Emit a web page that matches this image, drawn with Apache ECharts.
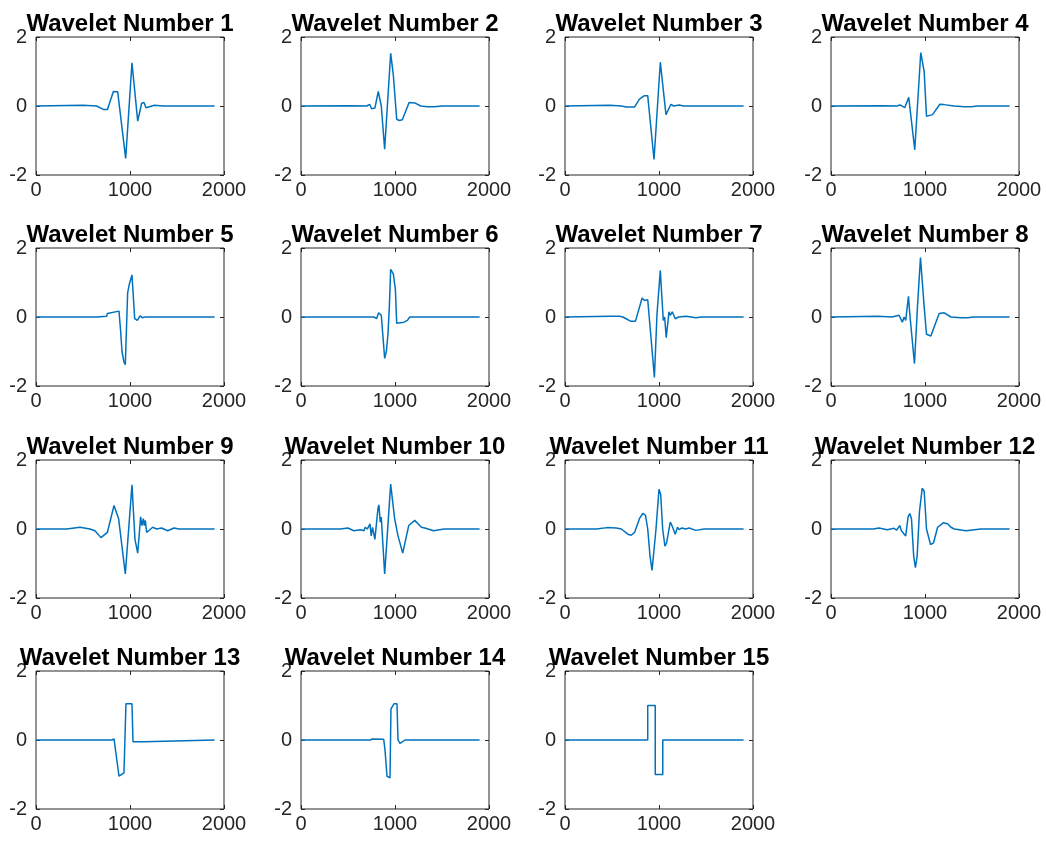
<!DOCTYPE html>
<html>
<head>
<meta charset="utf-8">
<script src="https://cdn.jsdelivr.net/npm/echarts@6/dist/echarts.min.js"></script>
<style>
  html, body { margin: 0; padding: 0; background: #fff; }
  #chart { width: 1046px; height: 844px; }
</style>
</head>
<body>
<div id="chart"></div>
<script>
// Tick values shared by every panel
const xTicks = [0, 1000, 2000];
const yTicks = [-2, 0, 2];

// Wavelet shapes as [sample, amplitude] breakpoints
const wave01 = [[0,0],[500,0.02],[645,0],[716,-0.1],[760,-0.1],[823,0.42],[869,0.41],[880,0.36],[954,-1.52],[1021,1.25],[1082,-0.44],[1124,0.08],[1149,0.1],[1170,-0.05],[1188,0],[1260,0.02],[1350,0],[1900,0]];
const wave02 = [[0,0],[509,0.01],[700,0],[730,0.05],[751,-0.08],[786,-0.06],[822,0.42],[854,0],[890,-1.25],[954,1.53],[982,0.9],[1018,-0.38],[1043,-0.42],[1078,-0.4],[1150,0.1],[1210,0.09],[1274,0],[1345,-0.02],[1416,-0.02],[1500,0],[1900,0]];
const wave03 = [[0,0],[475,0.02],[600,0],[651,-0.03],[739,-0.03],[757,-0.02],[792,0.2],[845,0.3],[880,0.3],[947,-1.55],[1014,1.27],[1074,-0.25],[1127,0.05],[1155,0],[1215,0.03],[1260,0],[1900,0]];
const wave04 = [[0,0],[528,0.01],[700,0],[734,0.03],[784,-0.05],[827,0.25],[891,-1.27],[955,1.55],[991,1.0],[1016,-0.3],[1080,-0.25],[1158,0.05],[1200,0.04],[1312,0],[1420,-0.02],[1490,-0.02],[1560,0],[1900,0]];
const wave05 = [[0,0],[645,0],[752,0.02],[759,0.1],[883,0.17],[900,-0.4],[915,-1.0],[935,-1.3],[950,-1.38],[975,0.7],[993,0.95],[1021,1.22],[1050,-0.05],[1078,-0.1],[1106,0.03],[1130,-0.02],[1160,0],[1900,0]];
const wave06 = [[0,0],[776,0],[804,-0.05],[826,0.12],[854,0.05],[890,-1.2],[908,-1.0],[925,-0.5],[940,0.3],[954,1.38],[982,1.25],[1004,0.8],[1018,-0.18],[1096,-0.15],[1132,-0.1],[1157,0],[1900,0]];
const wave07 = [[0,0],[475,0.02],[580,0.02],[616,0],[650,-0.05],[697,-0.12],[750,-0.12],[820,0.55],[845,0.48],[880,0.5],[915,-0.6],[951,-1.75],[979,0.1],[990,0.05],[1014,1.35],[1032,0.5],[1046,-0.1],[1060,0],[1077,-0.6],[1106,0.15],[1120,0.05],[1141,0.15],[1173,-0.05],[1208,0],[1290,0.02],[1391,-0.02],[1450,0],[1900,0]];
const wave08 = [[0,0],[500,0.02],[650,0],[724,0.05],[759,-0.15],[777,0],[795,-0.1],[824,0.6],[841,0],[858,0.05],[888,-1.35],[920,0.3],[952,1.72],[991,0.3],[1016,-0.5],[1062,-0.55],[1080,-0.6],[1151,0.1],[1205,0.12],[1276,0],[1380,-0.02],[1450,-0.02],[1520,0],[1900,0]];
const wave09 = [[0,0],[326,0],[468,0.05],[574,0],[627,-0.05],[691,-0.25],[759,-0.1],[830,0.68],[879,0.3],[950,-1.3],[1021,1.28],[1053,-0.3],[1064,-0.35],[1082,-0.7],[1113,0.35],[1127,0.1],[1142,0.3],[1152,0.1],[1163,0.25],[1177,-0.1],[1195,-0.05],[1241,0.05],[1283,0],[1336,0.03],[1401,-0.05],[1468,0.03],[1520,0],[1900,0]];
const wave10 = [[0,0],[420,0],[498,0.03],[562,-0.05],[633,-0.02],[669,-0.05],[683,0.05],[705,0],[722,0.08],[733,0.15],[747,-0.2],[761,0.05],[786,-0.3],[800,-0.35],[819,0.6],[829,0.7],[843,0.2],[854,0.35],[890,-1.3],[954,1.3],[996,0.3],[1032,-0.2],[1082,-0.7],[1146,0.1],[1210,0.25],[1281,0.05],[1327,0.02],[1409,-0.05],[1523,0],[1900,0]];
const wave11 = [[0,0],[335,0],[447,0.04],[546,0.03],[599,0],[669,-0.15],[704,-0.18],[740,-0.1],[792,0.3],[827,0.45],[856,0.4],[880,0],[905,-0.8],[926,-1.2],[944,-1.2],[968,0],[1000,1.15],[1018,1.0],[1039,0],[1063,-0.5],[1081,-0.4],[1120,0.2],[1138,0.1],[1151,0.15],[1173,-0.15],[1197,0.05],[1215,-0.02],[1243,0.03],[1285,0],[1320,0.03],[1391,-0.04],[1480,0],[1900,0]];
const wave12 = [[0,0],[450,0],[510,0.03],[598,-0.02],[670,0.02],[699,-0.03],[731,0.1],[749,-0.05],[770,-0.05],[795,-0.2],[820,0.35],[838,0.45],[856,0.3],[880,-0.8],[898,-1.12],[916,-0.8],[941,0.5],[970,1.18],[991,1.1],[1016,0],[1059,-0.45],[1091,-0.4],[1134,0.05],[1194,0.18],[1240,0.15],[1276,0.05],[1312,0],[1437,-0.05],[1526,-0.02],[1597,0],[1900,0]];
const wave13 = [[0,0],[808,0],[830,0.03],[851,0],[883,-1.05],[936,-0.95],[947,-0.95],[957,1.05],[968,1.1],[1021,1.05],[1032,-0.05],[1149,-0.05],[1160,0],[1900,0]];
const wave14 = [[0,0],[734,0],[760,0.03],[880,0.02],[894,-0.3],[915,-1.05],[947,-1.1],[957,0.9],[989,1.05],[1021,1.05],[1032,0],[1053,-0.1],[1106,0],[1900,0]];
const wave15 = [[0,0],[880,0],[880,1],[960,1],[960,-1],[1040,-1],[1040,0],[1900,0]];

const waves = [wave01, wave02, wave03, wave04, wave05, wave06, wave07, wave08,
               wave09, wave10, wave11, wave12, wave13, wave14, wave15];
const titles = waves.map((_, i) => 'Wavelet Number ' + (i + 1));

// Panel layout (4 x 4 grid of axes, last cell empty)
const colLeft = [36, 301, 565, 831];
const rowTop = [37, 248, 460, 671];
const boxW = 188, boxH = 138;
const ink = '#262626';
const font = '"Liberation Sans", Arial, Helvetica, sans-serif';
const plain = v => String(v);

const grid = [], xAxis = [], yAxis = [], series = [], title = [];

waves.forEach((data, i) => {
  const c = i % 4, r = Math.floor(i / 4);
  grid.push({
    left: colLeft[c], top: rowTop[r], width: boxW, height: boxH,
    show: true, borderColor: ink, borderWidth: 1, backgroundColor: '#fff'
  });
  const xBase = {
    gridIndex: i, type: 'value',
    min: xTicks[0], max: xTicks[xTicks.length - 1], interval: xTicks[1] - xTicks[0],
    axisLine: { show: false, onZero: false },
    axisTick: { show: true, inside: true, length: 4, lineStyle: { color: ink } },
    splitLine: { show: false }
  };
  xAxis.push(Object.assign({}, xBase, {
    position: 'bottom',
    axisLabel: { fontSize: 20, color: ink, margin: 5, fontFamily: font, formatter: plain }
  }));
  xAxis.push(Object.assign({}, xBase, {
    position: 'top', axisLabel: { show: false }
  }));
  const yBase = {
    gridIndex: i, type: 'value',
    min: yTicks[0], max: yTicks[yTicks.length - 1], interval: yTicks[1] - yTicks[0],
    axisLine: { show: false, onZero: false },
    axisTick: { show: true, inside: true, length: 4, lineStyle: { color: ink } },
    splitLine: { show: false }
  };
  yAxis.push(Object.assign({}, yBase, {
    position: 'left',
    axisLabel: { fontSize: 20, color: ink, margin: 9, fontFamily: font, formatter: plain }
  }));
  yAxis.push(Object.assign({}, yBase, {
    position: 'right', axisLabel: { show: false }
  }));
  series.push({
    type: 'line', xAxisIndex: 2 * i, yAxisIndex: 2 * i,
    data: data, showSymbol: false, symbol: 'none',
    lineStyle: { color: '#0072BD', width: 1.5 },
    silent: true
  });
  title.push({
    text: titles[i],
    left: colLeft[c] + boxW / 2, top: rowTop[r] - 25,
    padding: 0,
    textAlign: 'center',
    textStyle: { fontSize: 24, fontWeight: 'bold', color: '#000', fontFamily: font }
  });
});

const chart = echarts.init(document.getElementById('chart'), null, { renderer: 'canvas' });
chart.setOption({
  backgroundColor: '#fff',
  animation: false,
  title, grid, xAxis, yAxis, series
});
</script>
</body>
</html>
